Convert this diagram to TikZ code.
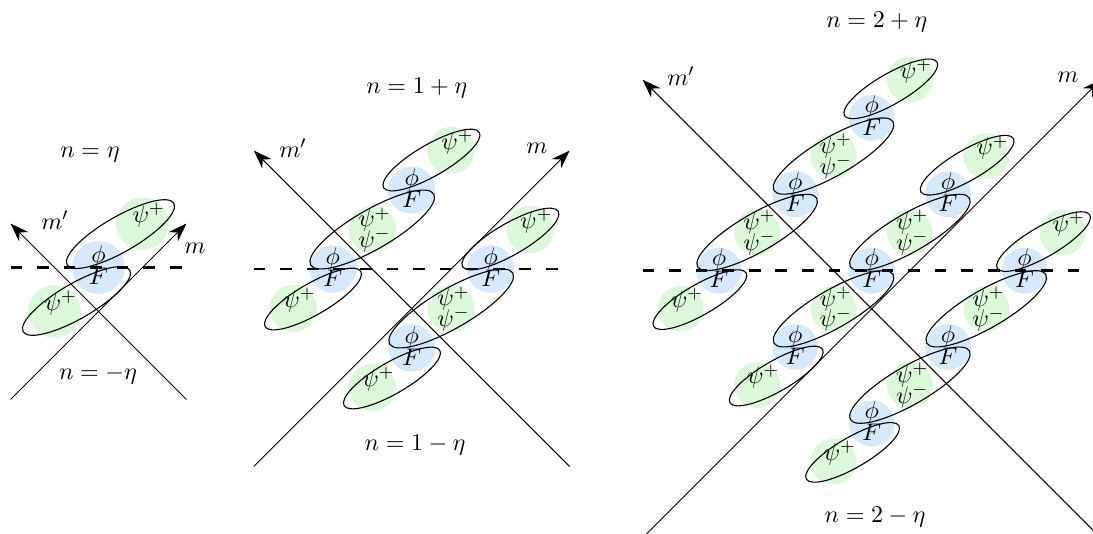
\documentclass[tikz,border=0pt]{standalone}
\usetikzlibrary{arrows.meta}
\definecolor{bluec}{RGB}{214,232,251}
\definecolor{greenc}{RGB}{220,248,218}
\newcommand\picfont{\fontsize{10.8pt}{13pt}\selectfont}
\tikzset{
  axisline/.style={line width=0.45pt,-{Stealth[length=8.5pt,width=6pt]}},
  midline/.style={line width=1.3pt,dash pattern=on 5.3pt off 6.8pt},
  chainell/.style={line width=0.5pt},
  bluedisc/.style={fill=bluec},
  greendisc/.style={fill=greenc},
  lbl/.style={inner sep=0pt},
}
\newcommand\bluesite[3]{%
  \coordinate (#1) at (#2,#3);
  \fill[bluedisc] (#1) circle (0.6);
  \node[lbl,yshift=5pt] (#1phi) at (#1) {$\phi$};
  \node[lbl,yshift=-4.1pt] (#1F) at (#1) {$F$};}
\newcommand\pairsite[3]{%
  \coordinate (#1) at (#2,#3);
  \fill[greendisc] (#1) circle (0.6);
  \node[lbl,xshift=1pt,yshift=4.6pt] (#1p) at (#1) {$\psi^+$};
  \node[lbl,xshift=1pt,yshift=-4.9pt] (#1m) at (#1) {$\psi^-$};}
\newcommand\singlesite[3]{%
  \coordinate (#1) at (#2,#3);
  \fill[greendisc] (#1) circle (0.6);
  \node[lbl,xshift=2.8pt,yshift=3.9pt] (#1t) at (#1) {$\psi^+$};}
\newcommand\topell[2]{\draw[chainell,shift={(#1,#2)},shift={(0.5,0.76)},rotate=30] (0,0) ellipse (1.4 and 0.4);}
\newcommand\botell[2]{\draw[chainell,shift={(#1,#2)},shift={(-0.5,-0.76)},rotate=30] (0,0) ellipse (1.4 and 0.4);}
\newcommand\bigell[2]{\draw[chainell,shift={(#1,#2)},rotate=30] (0,0) ellipse (1.8 and 0.5);}
\begin{document}
\begin{tikzpicture}[x=0.016cm,y=-0.016cm,every node/.append style={font=\picfont}]
\clip (0,0) rectangle (1093,533);
% ---------------- panel 1
\begin{scope}[shift={(98.5,311.5)},x=0.704cm,y=0.704cm]
  \bluesite{pa1}{0}{1}
  \singlesite{pa2}{1}{2}
  \singlesite{pa3}{-1}{0}
  \coordinate (pam1) at (2,-2); \coordinate (pam2) at (-2,2);
  \coordinate (pan1) at (-2,-2); \coordinate (pan2) at (2,2);
  \coordinate (pad1) at (-2,1); \coordinate (pad2) at (2,1);
  \draw[axisline] (pam1) -- (pam2);
  \draw[axisline] (pan1) -- (pan2);
  \draw[midline] (pad1) -- (pad2);
  \topell{0}{1}
  \botell{0}{1}
\end{scope}
\node (ta) at (90,155) {$n=\eta$};
\node (ba) at (98,375) {$n=-\eta$};
\node (mpa) at (55,220) {$m'$};
\node (ma) at (195,248) {$m$};
% ---------------- panel 2
\begin{scope}[shift={(411.7,308.5)},x=0.632cm,y=0.632cm]
  \bluesite{pb1}{-2}{1}
  \bluesite{pb2}{2}{1}
  \bluesite{pb3}{0}{3}
  \bluesite{pb4}{0}{-1}
  \pairsite{pb5}{-1}{2}
  \pairsite{pb6}{1}{0}
  \singlesite{pb7}{1}{4}
  \singlesite{pb8}{3}{2}
  \singlesite{pb9}{-3}{0}
  \singlesite{pb10}{-1}{-2}
  \coordinate (pbm1) at (4,-4); \coordinate (pbm2) at (-4,4);
  \coordinate (pbn1) at (-4,-4); \coordinate (pbn2) at (4,4);
  \coordinate (pbd1) at (-4,1); \coordinate (pbd2) at (4,1);
  \draw[axisline] (pbm1) -- (pbm2);
  \draw[axisline] (pbn1) -- (pbn2);
  \draw[midline] (pbd1) -- (pbd2);
  \topell{0}{3} \bigell{-1}{2} \botell{-2}{1}
  \topell{2}{1} \bigell{1}{0} \botell{0}{-1}
\end{scope}
\node (tb) at (416.7,88) {$n=1+\eta$};
\node (bb) at (415,445) {$n=1-\eta$};
\node (mpb) at (293,148) {$m'$};
\node (mb) at (537,148) {$m$};
% ---------------- panel 3
\begin{scope}[shift={(871.7,308.8)},x=0.6112cm,y=0.6112cm]
  \bluesite{pc1}{0}{5}
  \bluesite{pc2}{-2}{3}
  \bluesite{pc3}{2}{3}
  \bluesite{pc4}{-4}{1}
  \bluesite{pc5}{0}{1}
  \bluesite{pc6}{4}{1}
  \bluesite{pc7}{-2}{-1}
  \bluesite{pc8}{2}{-1}
  \bluesite{pc9}{0}{-3}
  \pairsite{pc10}{-1}{4}
  \pairsite{pc11}{-3}{2}
  \pairsite{pc12}{1}{2}
  \pairsite{pc13}{-1}{0}
  \pairsite{pc14}{3}{0}
  \pairsite{pc15}{1}{-2}
  \singlesite{pc16}{1}{6}
  \singlesite{pc17}{3}{4}
  \singlesite{pc18}{5}{2}
  \singlesite{pc19}{-5}{0}
  \singlesite{pc20}{-3}{-2}
  \singlesite{pc21}{-1}{-4}
  \coordinate (pcm1) at (6,-6); \coordinate (pcm2) at (-6,6);
  \coordinate (pcn1) at (-6,-6); \coordinate (pcn2) at (6,6);
  \coordinate (pcd1) at (-6,1); \coordinate (pcd2) at (6,1);
  \draw[axisline] (pcm1) -- (pcm2);
  \draw[axisline] (pcn1) -- (pcn2);
  \draw[midline] (pcd1) -- (pcd2);
  \topell{0}{5} \bigell{-1}{4} \bigell{-3}{2} \botell{-4}{1}
  \topell{2}{3} \bigell{1}{2} \bigell{-1}{0} \botell{-2}{-1}
  \topell{4}{1} \bigell{3}{0} \bigell{1}{-2} \botell{0}{-3}
\end{scope}
\node (tc) at (876.7,22) {$n=2+\eta$};
\node (bc) at (875,517.5) {$n=2-\eta$};
\node (mpc) at (681,76) {$m'$};
\node (mc) at (1068,77) {$m$};
\end{tikzpicture}
\end{document}
